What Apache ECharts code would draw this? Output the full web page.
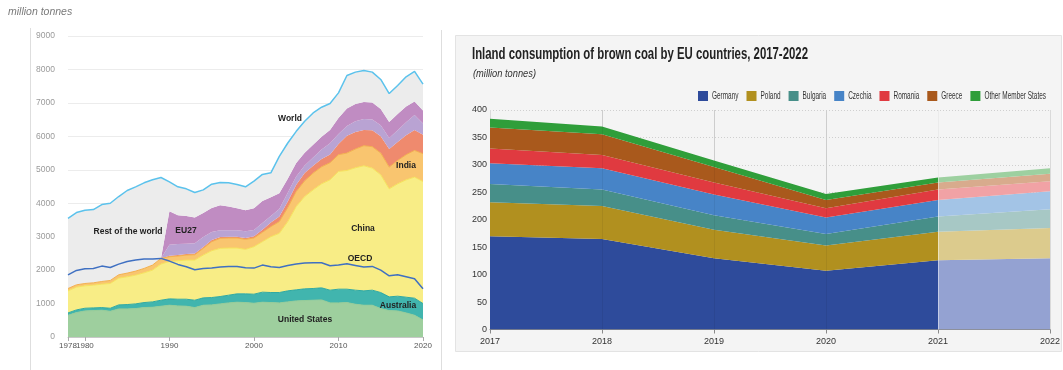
<!DOCTYPE html>
<html><head><meta charset="utf-8">
<script src="https://cdn.jsdelivr.net/npm/echarts@6/dist/echarts.min.js"></script>
<style>html,body{margin:0;padding:0;background:#fff;}#c{width:1063px;height:370px;}</style>
</head><body><div id="c"></div>
<script>
// ---------- Left chart: world coal consumption (million tonnes) ----------
const worldYears = ['1978','1979','1980','1981','1982','1983','1984','1985','1986','1987','1988','1989',
  '1990','1991','1992','1993','1994','1995','1996','1997','1998','1999',
  '2000','2001','2002','2003','2004','2005','2006','2007','2008','2009',
  '2010','2011','2012','2013','2014','2015','2016','2017','2018','2019','2020'];
const worldTickYears = ['1978','1980','1990','2000','2010','2020'];
const unitedStates = [650,730,780,790,800,770,840,840,850,880,890,920,
  950,930,920,880,950,960,990,1020,1040,1030,
  1010,1040,1030,1020,1050,1080,1090,1100,1110,1020,
  1020,1030,980,950,950,850,790,780,720,650,510];
const australia = [70,80,80,80,80,90,120,130,140,150,160,180,
  190,200,210,220,220,220,220,230,250,260,
  270,300,300,310,330,330,350,350,360,380,
  410,400,420,430,450,480,410,440,470,510,490];
const china = [660,680,670,680,700,740,800,830,860,890,950,1080,
  1120,1150,1170,1200,1280,1400,1440,1410,1370,1330,
  1420,1510,1670,1770,2070,2490,2760,2950,3110,3300,
  3520,3550,3660,3740,3650,3520,3230,3360,3510,3620,3650];
const india = [70,70,70,70,80,90,100,110,120,130,150,170,
  140,140,150,160,200,270,300,300,300,300,
  260,280,300,350,420,450,470,500,510,510,
  500,520,560,600,640,650,650,700,750,800,830];
const otherRedLayer = [0,0,0,0,0,0,0,0,0,0,0,0,
  30,30,30,40,40,50,40,40,40,40,
  50,80,120,150,180,200,230,220,230,250,
  320,520,510,470,490,500,540,550,580,610,570];
const otherLilacLayer = [0,0,0,0,0,0,0,0,0,0,0,0,
  330,330,310,300,300,240,200,190,190,200,
  190,200,200,230,260,250,230,250,290,330,
  300,290,320,330,320,330,330,350,390,450,330];
const eu27 = [0,0,0,0,0,0,0,0,0,0,0,0,
  1000,860,830,770,720,720,750,710,660,630,
  650,660,560,470,420,400,380,380,380,400,
  480,520,520,510,510,490,480,490,470,400,390];
const restOfWorld = [2100,2160,2190,2190,2300,2310,2340,2470,2520,2560,2550,2420,
  880,850,810,750,690,710,680,710,710,700,
  810,790,730,1100,1070,950,940,950,880,790,
  750,990,950,940,910,880,850,850,890,900,790];
const oecd = [1860,1990,2040,2050,2120,2080,2180,2260,2300,2330,2330,2350,
  2270,2170,2100,2010,2050,2060,2090,2110,2110,2070,
  2060,2150,2100,2080,2140,2180,2210,2220,2220,2130,
  2150,2190,2140,2090,2110,2000,1830,1860,1800,1740,1440];

// ---------- Right chart: EU brown coal (million tonnes) ----------
const euYears = ['2017','2018','2019','2020','2021','2022'];
const germany  = [170,165,130,107,126,130];
const poland   = [62,60,52,46,52,55];
const bulgaria = [33,30,26,21,28,34];
const czechia  = [38,39,38,30,30,33];
const romania  = [27,24,22,17,19,18];
const greece   = [38,38,28,15,13,14];
const otherMS  = [16,14,12,11,9,10];
const euNames  = ['Germany','Poland','Bulgaria','Czechia','Romania','Greece','Other Member States'];

const chart = echarts.init(document.getElementById('c'), null, {renderer:'canvas'});
const sans = '"Liberation Sans",Arial,Helvetica,sans-serif';

function measure(text, font){
  const ctx = document.createElement('canvas').getContext('2d');
  ctx.font = font; return ctx.measureText(text).width;
}
const titleText = 'Inland consumption of brown coal by EU countries, 2017-2022';
const titleScale = 336 / measure(titleText, 'bold 16px "Liberation Sans"');
const subText = '(million tonnes)';
const subScale = 63 / measure(subText, 'italic 11px "Liberation Sans"');

const euSolid = ['#2e4b9b','#b1901f','#478f89','#4784c7','#e03a40','#a9591c','#2f9e3a'];
const euLight = ['#94a2d2','#dccb8d','#a7c8c5','#a3c4e6','#f1a2a5','#d8ab8d','#9dd0a0'];

// condensed legend drawn as text, scaled to the reference's narrow type
const lgFont = '10.5px "Liberation Sans"';
const lgWidths = euNames.map(n => measure(n, lgFont));
const lgLeft = 698, lgRight = 1046, icon = 10, iconGap = 4, itemGap = 8;
const lgScale = (lgRight - lgLeft - euNames.length*(icon+iconGap) - (euNames.length-1)*itemGap) /
                lgWidths.reduce((a,b)=>a+b,0);
const legendGraphics = [];
let lx = lgLeft;
euNames.forEach((n,i) => {
  legendGraphics.push({type:'rect', shape:{x:lx, y:91, width:icon, height:icon}, style:{fill:euSolid[i]}});
  legendGraphics.push({type:'text', x:lx+icon+iconGap, y:96, scaleX:lgScale,
    style:{text:n, fontFamily:sans, fontSize:10.5, fill:'#333', align:'left', verticalAlign:'middle'}});
  lx += icon + iconGap + lgWidths[i]*lgScale + itemGap;
});

function leftArea(name, data, fill, line, lw){
  return {name, type:'line', xAxisIndex:0, yAxisIndex:0, stack:'world', data,
    symbol:'none', smooth:false,
    lineStyle:{color:line, width:lw}, itemStyle:{color:fill},
    areaStyle:{color:fill, opacity:1}, emphasis:{disabled:true}};
}
function splitFill(solid, light){
  return new echarts.graphic.LinearGradient(0,0,1,0,[
    {offset:0,color:solid},{offset:0.8,color:solid},
    {offset:0.8,color:light},{offset:1,color:light}]);
}
const euData = [germany, poland, bulgaria, czechia, romania, greece, otherMS];
const rightSeries = euNames.map((n,i) => ({name:n, type:'line', xAxisIndex:2, yAxisIndex:1, stack:'eu',
  data:euData[i], symbol:'none', lineStyle:{width:0}, itemStyle:{color:euSolid[i]},
  areaStyle:{color:splitFill(euSolid[i], euLight[i]), opacity:1}, emphasis:{disabled:true}}));
rightSeries[6].markLine = {silent:true, symbol:['none','none'], animation:false,
  label:{show:false},
  data:[{xAxis:'2018'},{xAxis:'2019'},{xAxis:'2020'},
        {xAxis:'2021', lineStyle:{color:'rgba(255,255,255,0.45)'}}],
  lineStyle:{color:'rgba(0,0,0,0.06)', type:'solid', width:1}};

const label = (text,x,y) => ({type:'text', x, y, z:100,
  style:{text, fontFamily:sans, fontSize:8.5, fontWeight:'bold', fill:'#222', align:'center', verticalAlign:'middle'}});

const leftLabelStyle = {fontFamily:sans, fontSize:8, color:'#555', margin:5};
const option = {
  animation:false,
  backgroundColor:'#ffffff',
  grid:[
    {left:68, top:36, width:355, height:301},
    {left:490, top:110, right:13, height:219.5}
  ],
  xAxis:[
    {type:'category', gridIndex:0, position:'bottom', data:worldYears, boundaryGap:false,
     axisLine:{lineStyle:{color:'#c8c8c8'}},
     axisTick:{show:true, length:4, lineStyle:{color:'#aaa'},
       interval:(i,v)=>worldTickYears.includes(v)},
     axisLabel:Object.assign({interval:(i,v)=>worldTickYears.includes(v) && v!=='1980',
       showMinLabel:true, showMaxLabel:true}, leftLabelStyle),
     splitLine:{show:false}},
    // companion axis carrying only the "1980" label, which sits flush against "1978"
    {type:'category', gridIndex:0, position:'bottom', offset:0, data:worldYears, boundaryGap:false,
     axisLine:{show:false}, axisTick:{show:false}, splitLine:{show:false},
     axisLabel:Object.assign({interval:(i,v)=>v==='1980', showMinLabel:false, showMaxLabel:false}, leftLabelStyle)},
    {type:'category', gridIndex:1, position:'bottom', data:euYears, boundaryGap:false,
     axisLine:{lineStyle:{color:'#8a8a8a'}},
     axisTick:{show:true, length:4, lineStyle:{color:'#8a8a8a'}},
     axisLabel:{fontFamily:sans, fontSize:9, color:'#333', margin:8},
     splitLine:{show:true, lineStyle:{color:'#dadada', width:1}}}
  ],
  yAxis:[
    {type:'value', gridIndex:0, min:0, max:9000, interval:1000,
     axisLine:{show:false}, axisTick:{show:false},
     axisLabel:{fontFamily:sans, fontSize:8.5, color:'#9a9a9a', margin:13, formatter:v=>String(v)},
     splitLine:{lineStyle:{color:'#ececec'}}},
    {type:'value', gridIndex:1, min:0, max:400, interval:50,
     axisLine:{show:false}, axisTick:{show:false},
     axisLabel:{fontFamily:sans, fontSize:9, color:'#333', margin:3},
     splitLine:{lineStyle:{color:'#cfcfcf', type:[1,2]}}}
  ],
  series:[
    leftArea('United States', unitedStates, '#9ecf9e', '#96cc98', 1),
    leftArea('Australia', australia, '#41b5ae', '#2fa9a2', 1),
    leftArea('China', china, '#f8ed86', '#f6e35c', 1),
    leftArea('India', india, '#f9c56f', '#f3b04e', 1),
    leftArea('Other (red layer)', otherRedLayer, '#ef8a6e', '#ef8a6e', 0),
    leftArea('Other (lilac layer)', otherLilacLayer, '#b9a3d3', '#b9a3d3', 0),
    leftArea('EU27', eu27, '#c08cc2', '#b47ab7', 0),
    leftArea('Rest of the world', restOfWorld, '#ececec', '#5bc2ec', 1.5),
    {name:'OECD', type:'line', xAxisIndex:0, yAxisIndex:0, data:oecd, symbol:'none',
     lineStyle:{color:'#3f70c2', width:1.5}, itemStyle:{color:'#3f70c2'}, emphasis:{disabled:true}},
    ...rightSeries
  ],
  graphic:[
    {type:'line', z:-5, shape:{x1:30.5,y1:28,x2:30.5,y2:370}, style:{stroke:'#dedede', lineWidth:1}},
    {type:'line', z:-5, shape:{x1:441.5,y1:30,x2:441.5,y2:370}, style:{stroke:'#dedede', lineWidth:1}},
    {type:'rect', z:-10, shape:{x:455.5,y:35.5,width:606,height:316}, style:{fill:'#f4f4f4', stroke:'#e3e3e3', lineWidth:1}},
    {type:'text', x:8, y:12, style:{text:'million tonnes', fontFamily:sans, fontStyle:'italic', fontSize:10.5, fill:'#7a7a7a', align:'left', verticalAlign:'middle'}},
    {type:'text', x:472, y:55, scaleX:titleScale, style:{text:titleText, fontFamily:sans, fontWeight:'bold', fontSize:16, fill:'#222', align:'left', verticalAlign:'middle'}},
    {type:'text', x:473, y:74, scaleX:subScale, style:{text:subText, fontFamily:sans, fontStyle:'italic', fontSize:11, fill:'#333', align:'left', verticalAlign:'middle'}},
    ...legendGraphics,
    label('World', 290, 119),
    label('Rest of the world', 128, 232),
    label('EU27', 186, 231),
    label('India', 406, 166),
    label('China', 363, 229),
    label('OECD', 360, 259),
    label('Australia', 398, 306),
    label('United States', 305, 320)
  ]
};
chart.setOption(option);
</script></body></html>
